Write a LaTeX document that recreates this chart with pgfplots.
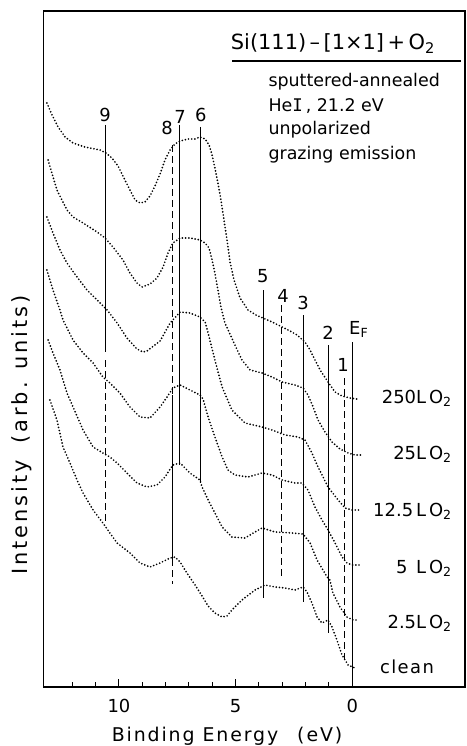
\documentclass[border=0pt]{standalone}
\usepackage{fontspec}
\setmainfont{DejaVu Sans}
\newfontfamily\widefont[LetterSpace=10]{DejaVu Sans}
\newfontfamily\widerfont[LetterSpace=14]{DejaVu Sans}
\newfontfamily\romI{DejaVu Sans Mono}
\usepackage{pgfplots}
\pgfplotsset{compat=1.18}
\begin{document}
\begin{tikzpicture}
\useasboundingbox (0,0) rectangle (467bp,746bp);
\begin{axis}[
  at={(43.5bp,59bp)}, anchor=south west,
  scale only axis, width=421.5bp, height=676bp,
  x dir=reverse, y dir=reverse,
  xmin=-4.83, xmax=13.236,
  ymin=11, ymax=687,
  axis line style={line width=1.5pt},
  xtick={0,5,10}, minor xtick={1,2,3,4,6,7,8,9,11,12},
  ytick=\empty,
  xtick pos=bottom, tick align=inside,
  major tick length=8bp, minor tick length=5bp,
  every tick/.style={line width=1pt, black},
  xticklabel style={font=\fontsize{18}{18}\selectfont, yshift=-9bp},
  /pgf/number format/assume math mode=true,
  clip=false,
  dots/.style={black, line width=1.9pt, line cap=round, dash pattern=on 0pt off 3.2bp},
  vsolid/.style={black, line width=0.8pt},
  vdash/.style={black, line width=0.8pt, dash pattern=on 7bp off 4bp},
]
% ---- spectra (x: binding energy in eV, y: vertical position, downward) ----
% 250 L O2
\addplot[dots] coordinates {(13.09,103) (12.87,115) (12.61,127) (12.31,137) (11.97,143) (11.46,147) (10.81,150) (10.56,153) (10.30,158) (10.04,166) (9.79,178) (9.53,190) (9.31,200) (9.10,203) (8.89,202) (8.67,196) (8.46,186) (8.24,174) (8.03,160) (7.81,150) (7.60,144) (7.38,141) (7.04,139) (6.74,139) (6.53,137) (6.31,139) (6.14,145) (6.01,155) (5.89,168) (5.76,183) (5.63,200) (5.50,220) (5.37,240) (5.24,262) (5.07,280) (4.81,298) (4.47,310) (4.13,315) (3.83,318) (3.44,322) (3.01,327) (2.67,331) (2.37,335) (2.03,342) (1.81,350) (1.60,360) (1.38,370) (1.04,382) (0.74,392) (0.44,396) (0.10,398) (-0.20,399)};
% 25 L O2
\addplot[dots] coordinates {(13.04,160) (12.66,190) (12.23,210) (11.97,217) (11.54,223) (10.94,232) (10.60,238) (10.26,247) (9.83,260) (9.53,273) (9.23,283) (9.01,287) (8.67,284) (8.37,278) (8.11,267) (7.90,253) (7.69,243) (7.38,238) (6.96,238) (6.53,240) (6.31,243) (6.14,248) (6.01,260) (5.89,273) (5.76,290) (5.63,307) (5.46,323) (5.03,345) (4.73,360) (4.38,370) (3.87,373) (3.44,377) (3.01,382) (2.46,385) (2.11,388) (1.90,395) (1.68,407) (1.47,420) (1.17,432) (0.87,442) (0.53,449) (0.18,453) (-0.11,455) (-0.42,455)};
% 12.5 L O2
\addplot[dots] coordinates {(13.09,217) (12.83,233) (12.53,250) (12.23,263) (11.80,277) (11.37,290) (10.94,300) (10.51,310) (10.08,323) (9.66,338) (9.23,349) (8.97,352) (8.80,351) (8.24,341) (7.81,323) (7.38,312) (6.96,313) (6.53,317) (6.31,322) (6.18,333) (5.89,360) (5.58,387) (5.16,410) (4.60,423) (3.87,427) (3.44,430) (2.88,435) (2.33,437) (2.03,440) (1.73,453) (1.47,467) (1.04,487) (0.61,500) (0.31,508) (0.01,510) (-0.33,510)};
% 5 L O2
\addplot[dots] coordinates {(13.09,270) (12.83,290) (12.53,310) (12.40,320) (11.97,340) (11.54,353) (11.11,363) (10.69,377) (10.39,383) (9.96,393) (9.53,407) (9.10,417) (8.67,418) (8.24,407) (7.94,397) (7.69,388) (7.38,385) (6.96,390) (6.53,395) (6.40,399) (6.18,417) (5.89,437) (5.58,457) (5.33,470) (5.03,475) (4.47,477) (3.87,473) (3.44,475) (3.01,480) (2.46,483) (2.16,483) (1.90,490) (1.60,507) (1.30,520) (1.04,530) (0.74,543) (0.44,557) (0.23,563) (0.01,565) (-0.33,565)};
% 2.5 L O2
\addplot[dots] coordinates {(13.04,340) (12.83,353) (12.53,370) (12.23,393) (11.97,407) (11.54,430) (11.11,447) (10.69,453) (10.39,457) (10.08,463) (9.66,473) (9.23,483) (8.80,487) (8.37,485) (8.03,477) (7.69,465) (7.38,463) (6.96,473) (6.53,480) (6.44,487) (6.18,500) (5.89,513) (5.58,527) (5.16,537) (4.60,538) (4.17,532) (3.87,528) (3.31,532) (2.59,533) (2.11,534) (1.81,543) (1.51,560) (1.08,577) (0.96,580) (0.83,593) (0.53,607) (0.23,617) (-0.03,620) (-0.20,620)};
% clean
\addplot[dots] coordinates {(12.96,400) (12.66,420) (12.40,447) (12.10,463) (11.80,480) (11.54,493) (11.11,510) (10.69,523) (10.39,533) (10.08,543) (9.53,553) (9.10,563) (8.67,567) (8.24,563) (7.81,558) (7.60,557) (7.38,562) (7.09,573) (6.74,585) (6.44,596) (6.18,606) (5.89,613) (5.58,617) (5.37,616) (5.16,610) (4.73,600) (4.17,590) (3.74,585) (3.31,587) (2.88,588) (2.46,590) (2.11,587) (1.94,592) (1.73,603) (1.51,617) (1.30,623) (1.04,620) (0.87,627) (0.66,640) (0.44,655) (0.18,665) (-0.11,668)};
% ---- feature markers ----
\addplot[vsolid] coordinates {(10.60,125) (10.60,352)};
\addplot[vdash]  coordinates {(10.60,360) (10.60,525)};
\addplot[vdash]  coordinates {(7.72,145) (7.72,395)};
\addplot[vsolid] coordinates {(7.72,395) (7.72,566)};
\addplot[vdash]  coordinates {(7.72,570) (7.72,584)};
\addplot[vsolid] coordinates {(7.39,125) (7.39,465)};
\addplot[vsolid] coordinates {(6.49,127) (6.49,483)};
\addplot[vsolid] coordinates {(3.81,290) (3.81,598)};
\addplot[vdash]  coordinates {(3.06,305) (3.06,578)};
\addplot[vsolid] coordinates {(2.10,315) (2.10,602)};
\addplot[vsolid] coordinates {(1.01,345) (1.01,633)};
\addplot[vdash]  coordinates {(0.35,378) (0.35,660)};
\addplot[black, line width=1.2pt] coordinates {(0.0,342) (0.0,687)};
% marker labels
\begin{scope}[every node/.style={font=\fontsize{18}{18}\selectfont, inner sep=0pt}]
\node at (axis cs:10.60,115) {9};
\node at (axis cs:7.94,128) {8};
\node at (axis cs:7.38,117) {7};
\node at (axis cs:6.49,115) {6};
\node at (axis cs:3.83,276) {5};
\node at (axis cs:2.97,296) {4};
\node at (axis cs:2.11,303) {3};
\node at (axis cs:1.04,333) {2};
\node at (axis cs:0.40,365) {1};
\node[anchor=base west] at (axis cs:0.14,334) {E\textsubscript{F}};
\end{scope}
% curve labels
\begin{scope}[every node/.style={font=\fontsize{18}{18}\selectfont, inner sep=0pt, anchor=base east}]
\node at (axis cs:-4.27,403) {250L\,O\textsubscript{2}};
\node at (axis cs:-4.27,459) {25L\,O\textsubscript{2}};
\node at (axis cs:-4.27,516) {12.5\,L\,O\textsubscript{2}};
\node at (axis cs:-4.27,573) {5 \,L\,O\textsubscript{2}};
\node at (axis cs:-4.27,628) {2.5L\,O\textsubscript{2}};
\node[anchor=base west] at (axis cs:-1.18,673) {\addfontfeature{LetterSpace=8}clean};
\end{scope}
% title block
\node[anchor=base, inner sep=0pt, font=\fontsize{21}{21}\selectfont] at (axis cs:0.83,50) {Si(111)\,–\,[1×1]\,+\,O\textsubscript{2}};
\draw[line width=1.2pt] (axis cs:5.15,61) -- (axis cs:-4.66,61);
\begin{scope}[every node/.style={font=\fontsize{17.5}{17.5}\selectfont, inner sep=0pt, anchor=base west}]
\node at (axis cs:3.60,87) {sputtered-annealed};
\node at (axis cs:3.60,112) {He{\romI I}\,, 21.2 eV};
\node at (axis cs:3.60,135) {unpolarized};
\node at (axis cs:3.60,160) {grazing emission};
\end{scope}
\end{axis}
\node[anchor=base, font=\widefont\fontsize{19}{19}\selectfont] at (227bp,5bp) {Binding Energy\hspace{1em}(eV)};
\node[rotate=90, font=\widerfont\fontsize{21}{21}\selectfont] at (22bp,311bp) {Intensity\hspace{0.8em}(arb. units)};
\end{tikzpicture}
\end{document}
